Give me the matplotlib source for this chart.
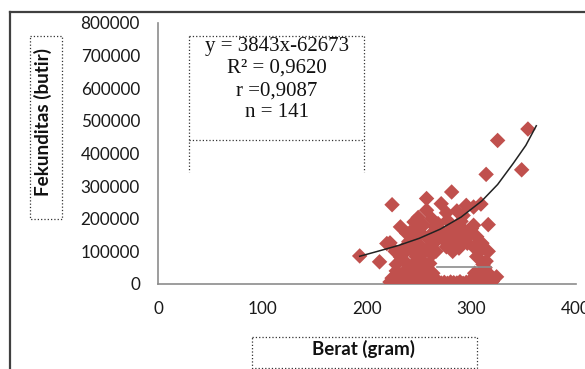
import numpy as np
import matplotlib.pyplot as plt
from matplotlib.patches import Rectangle

# a. data
berat = [354, 325, 348, 314, 281, 257, 224, 271, 295, 309, 286, 276, 302, 257, 249, 302, 316, 232,
         241, 265, 279, 219, 305, 289, 270, 316, 193, 212, 232, 254, 302, 238, 222, 235, 247, 252,
         260, 276, 305, 260, 263, 303, 324, 318,
         245, 262, 268, 272, 284, 290, 293, 285, 296, 282, 288, 310, 311, 308, 240, 250, 255, 245,
         262, 258, 265, 244, 238, 250, 230, 242, 255, 265, 228, 236, 252, 258, 266, 298, 280, 254,
         277, 292, 246, 227, 310, 314, 313,
         222, 226, 230, 234, 238, 241, 244, 247, 250, 253, 256, 259, 262, 265, 268, 271, 274, 277,
         280, 283, 286, 289, 292, 295, 298, 301, 304, 307, 310, 313, 316, 319,
         224, 232, 240, 248, 256, 262, 304, 308, 312, 316, 320, 228, 236, 246, 252, 260, 234, 240,
         248, 262, 275, 292, 300]
fekunditas = [475000, 440000, 350000, 336000, 282000, 262000, 243000, 246000, 241000, 245000,
              224000, 218000, 236000, 226000, 204000, 180000, 182000, 175000, 158000, 175000,
              163000, 124000, 145000, 145000, 145000, 100000, 86000, 68000, 83000, 53000, 114000,
              155000, 126000, 109000, 84000, 155000, 114000, 114000, 84000, 63000, 33000, 33000,
              22000, 27000,
              190000, 200000, 185000, 160000, 172000, 192000, 165000, 130000, 125000, 100000,
              110000, 125000, 60000, 100000, 130000, 120000, 100000, 97000, 90000, 140000, 128000,
              60000, 45000, 40000, 30000, 25000, 20000, 15000, 60000, 70000, 75000, 45000, 100000,
              150000, 140000, 180000, 195000, 210000, 140000, 100000, 40000, 70000, 50000,
              6000, 3000, 9000, 4000, 8000, 2000, 10000, 5000, 7000, 3000, 9000, 4000, 6000, 2000,
              8000, 3000, 5000, 2000, 6000, 4000, 3000, 7000, 2000, 5000, 8000, 4000, 10000, 6000,
              3000, 9000, 5000, 7000,
              18000, 15000, 12000, 16000, 10000, 22000, 15000, 20000, 12000, 18000, 8000, 40000,
              35000, 50000, 30000, 40000, 90000, 110000, 170000, 155000, 130000, 135000, 170000]

# trend line points
trend_x = [193, 210, 230, 250, 270, 290, 310, 325, 340, 352, 362]
trend_y = [85000, 100000, 118000, 140000, 168000, 205000, 255000, 305000, 370000, 425000, 485000]

# stray grey segment inside the cluster
seg_x = [267, 319]
seg_y = [53000, 53000]

yticks = [0, 100000, 200000, 300000, 400000, 500000, 600000, 700000, 800000]
xticks = [0, 100, 200, 300, 400]

eq_lines = ["y = 3843x-62673", "R\u00b2 = 0,9620", "r =0,9087", "n = 141"]

W, H = 585, 369
red = "#C0504D"

# b. figure and axes
fig = plt.figure(figsize=(W / 100, H / 100), dpi=100)
ax = fig.add_axes([158 / W, 1 - 284 / H, (576 - 158) / W, (284 - 23) / H])

ax.scatter(berat, fekunditas, marker="D", s=62, color=red, edgecolors="none", zorder=3)
ax.plot(trend_x, trend_y, color="#222222", lw=1.1, zorder=4)
ax.plot(seg_x, seg_y, color="#8c8c8c", lw=1.2, zorder=4)

ax.set_xlim(0, 400)
ax.set_ylim(0, 800000)
ax.set_xticks(xticks)
ax.set_yticks(yticks)
ax.set_xticklabels([str(v) for v in xticks])
ax.set_yticklabels([str(v) for v in yticks])
ax.tick_params(length=0, labelsize=12.3, colors="#1a1a1a")
ax.tick_params(axis="x", pad=12)
ax.tick_params(axis="y", pad=13)
for lab in ax.get_xticklabels() + ax.get_yticklabels():
    lab.set_family("Lato")
for s in ["top", "right"]:
    ax.spines[s].set_visible(False)
for s in ["left", "bottom"]:
    ax.spines[s].set_color("#8c8c8c")
    ax.spines[s].set_linewidth(1.2)

# c. overlay in pixel units for the frame, boxes and texts
ov = fig.add_axes([0, 0, 1, 1], zorder=5)
ov.set_xlim(0, W)
ov.set_ylim(H, 0)
ov.axis("off")
ov.patch.set_alpha(0)

ov.plot([10, W], [12, 12], color="#404040", lw=1.6)
ov.plot([10, 10], [12, H], color="#404040", lw=1.6)

dot = dict(color="#333333", lw=0.9, ls=":")
ov.plot([189, 364], [36, 36], **dot)
ov.plot([189, 364], [140, 140], **dot)
ov.plot([189, 189], [36, 172], **dot)
ov.plot([364, 364], [36, 172], **dot)
ov.add_patch(Rectangle((30, 36), 32, 183, fill=False, **dot))
ov.add_patch(Rectangle((252, 337), 225, 31, fill=False, **dot))

for i, t in enumerate(eq_lines):
    ov.text(277, 46 + 22.3 * i, t, ha="center", va="center", fontsize=15,
            family="Liberation Serif", color="#111111")

ov.text(43, 122, "Fekunditas (butir)", rotation=90, ha="center", va="center",
        fontsize=13.6, fontweight="bold", family="Lato", color="#111111")
ov.text(363, 349, "Berat (gram)", ha="center", va="center",
        fontsize=13.5, fontweight="bold", family="Lato", color="#111111")

fig.savefig("out.png", dpi=100)
